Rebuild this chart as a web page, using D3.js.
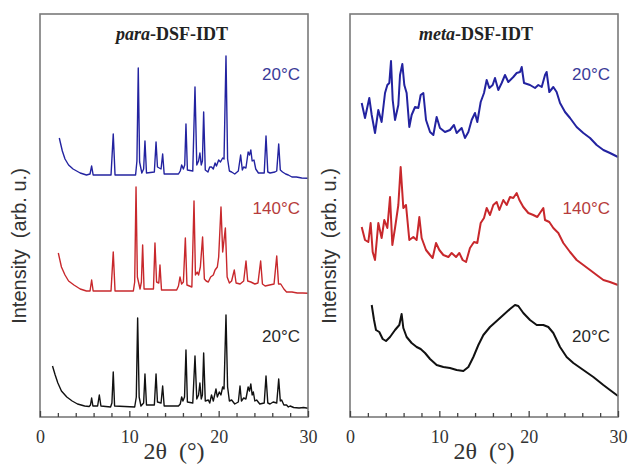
<!DOCTYPE html>
<html><head><meta charset="utf-8">
<script src="https://cdn.jsdelivr.net/npm/d3@7"></script>
<style>html,body{margin:0;padding:0;background:#fff;}svg{display:block;}</style>
</head><body>
<svg id="chart" width="628" height="464"></svg>
<script>
// ---- DATA (2θ in degrees, intensity in arbitrary offset units) ----
const panelTitles = [["para", "-DSF-IDT"], ["meta", "-DSF-IDT"]];
const traceLabels = ["20°C", "140°C", "20°C"];
const xTicksMajor = [0, 10, 20, 30];
const xTicksMinor = [2, 4, 6, 8, 12, 14, 16, 18, 22, 24, 26, 28];

const paraBlue20 = [[2.16,279],[2.5,266],[2.8,258],[3.2,252],[3.7,248],[4.5,244],[5.2,242],[5.6,243],[5.78,251],[5.95,242],[7.95,242],[8.2,283],[8.4,242],[10.7,242],[10.85,256],[11.0,349],[11.15,255],[11.4,244],[11.6,248],[11.75,276],[11.92,244],[12.8,245],[12.99,275],[13.15,250],[13.55,248],[13.73,263],[13.9,243],[15.5,243],[15.7,246],[15.86,252],[16.05,248],[16.2,252],[16.34,293],[16.5,247],[17.1,246],[17.35,330],[17.55,252],[17.75,256],[17.9,264],[18.05,252],[18.18,256],[18.32,305],[18.5,247],[18.8,245],[19.0,250],[19.2,250],[19.4,248],[19.6,254],[19.75,251],[20.0,257],[20.2,255],[20.45,259],[20.6,258],[20.82,361],[21.0,258],[21.2,246],[21.45,245],[21.8,243],[22.2,246],[22.46,262],[22.65,247],[22.8,250],[23.05,249],[23.3,265],[23.45,262],[23.6,267],[23.75,256],[23.95,257],[24.15,248],[24.45,244],[25.1,244],[25.3,281],[25.5,245],[25.75,244],[26.3,245],[26.5,246],[26.72,273],[26.9,247],[27.15,245],[27.5,243],[27.8,242],[28.2,240],[28.7,240],[29.3,239],[30,238.7]];
const paraRed140 = [[2.05,164],[2.4,150],[2.8,142],[3.2,136],[3.8,132],[4.5,128],[5.2,126],[5.6,126],[5.78,137],[5.95,126],[7.95,126],[8.2,165],[8.4,126],[10.45,126],[10.6,135],[10.75,230],[10.9,140],[11.2,128],[11.35,135],[11.49,172],[11.65,128],[12.7,128],[12.87,174],[13.05,135],[13.3,134],[13.43,152],[13.6,127],[15.3,127],[15.5,131],[15.67,140],[15.85,133],[16.05,135],[16.27,179],[16.45,132],[17.0,130],[17.24,216],[17.4,142],[17.6,145],[17.75,142],[17.95,150],[18.2,180],[18.4,138],[18.6,136],[18.84,135],[19.1,140],[19.4,142],[19.6,147],[19.85,150],[20.0,160],[20.26,210],[20.45,165],[20.75,189],[20.95,140],[21.2,134],[21.45,136],[21.75,147],[21.95,134],[22.4,133],[22.8,136],[23.06,156],[23.25,136],[23.6,135],[24.05,133],[24.4,134],[24.7,156],[24.9,133],[25.2,131],[25.7,132],[26.2,133],[26.5,161],[26.7,133],[26.95,133],[27.3,128],[27.6,125],[28.2,125],[28.8,124],[29.4,124],[30,123.7]];
const paraBlack20 = [[1.4,51],[1.7,42],[2.0,34],[2.4,26],[3.0,20],[3.6,16],[4.2,13],[5.0,11],[5.5,10.5],[5.65,12],[5.78,19],[5.92,11],[6.45,11],[6.64,22],[6.82,11],[7.9,10],[8.05,14],[8.2,45],[8.35,11],[10.6,10],[10.78,20],[10.93,99],[11.1,20],[11.3,11],[11.6,14],[11.75,43],[11.92,12],[12.8,12],[12.99,43],[13.15,15],[13.55,14],[13.73,31],[13.9,11],[15.5,11],[15.7,13],[15.86,20],[16.0,16],[16.18,20],[16.34,67],[16.5,15],[17.1,14],[17.35,61],[17.55,18],[17.75,22],[17.9,34],[18.05,18],[18.18,22],[18.32,64],[18.5,16],[18.84,17],[19.0,14],[19.2,22],[19.4,16],[19.7,28],[19.85,20],[20.07,25],[20.25,22],[20.45,30],[20.6,28],[20.82,102],[21.0,30],[21.2,16],[21.45,17],[21.8,13],[22.2,15],[22.39,31],[22.55,16],[22.8,19],[23.05,18],[23.3,30],[23.45,26],[23.6,33],[23.75,22],[23.88,25],[24.05,16],[24.25,17],[24.6,13],[25.1,14],[25.3,41],[25.5,14],[25.75,13],[26.1,15],[26.5,14],[26.72,38],[26.9,16],[27.05,17],[27.3,12],[27.6,12],[27.8,10],[28.0,11],[28.4,9.5],[29.0,9],[29.5,9.5],[30,8.7]];

const metaBlue20 = [[1.31,314],[1.68,299],[2.16,319],[2.43,302],[2.80,284],[3.17,307],[3.54,295],[3.92,324],[4.18,332],[4.40,334],[4.59,356],[4.78,317],[5.04,297],[5.41,312],[5.60,342],[5.86,353],[6.08,332],[6.34,324],[6.64,290],[6.90,302],[7.28,310],[7.65,309],[7.91,322],[8.21,324],[8.51,297],[8.96,285],[9.33,282],[9.70,300],[10.07,289],[10.63,285],[11.19,287],[11.64,292],[11.94,284],[12.50,289],[12.87,279],[13.25,285],[13.62,297],[13.99,304],[14.25,295],[14.63,315],[15.0,324],[15.30,337],[15.60,329],[15.97,332],[16.23,339],[16.60,327],[16.98,334],[17.35,342],[17.72,335],[18.28,340],[18.66,344],[19.03,345],[19.22,350],[19.48,334],[20.15,332],[20.71,329],[21.08,332],[21.46,330],[21.83,342],[22.01,345],[22.31,325],[22.76,330],[23.13,325],[23.51,314],[24.07,305],[24.63,299],[25.37,290],[26.12,284],[26.87,279],[27.61,272],[28.36,267],[29.10,264],[30.0,260]];
const metaRed140 = [[1.31,190],[1.68,177],[2.05,175],[2.31,194],[2.54,165],[2.80,157],[3.17,194],[3.54,179],[3.84,197],[4.18,189],[4.48,220],[4.74,172],[5.04,189],[5.41,212],[5.67,250],[5.97,209],[6.27,212],[6.64,177],[7.09,180],[7.46,177],[7.76,200],[8.02,179],[8.51,167],[8.96,162],[9.25,159],[9.63,174],[10.0,167],[10.45,162],[11.01,160],[11.38,164],[11.87,160],[12.24,164],[12.61,157],[12.99,155],[13.43,169],[13.88,175],[14.25,174],[14.63,194],[15.0,199],[15.30,209],[15.67,202],[16.04,212],[16.42,215],[16.72,207],[17.16,217],[17.54,212],[17.91,220],[18.28,219],[18.66,224],[18.96,217],[19.40,210],[19.96,204],[20.52,202],[20.97,200],[21.34,205],[21.64,209],[21.83,197],[22.31,195],[22.76,189],[23.32,184],[23.88,174],[24.63,165],[25.37,157],[26.12,152],[26.87,147],[27.61,142],[28.36,137],[29.10,135],[30.0,132]];
const metaBlack20 = [[2.43,112],[2.69,97],[2.91,87],[3.28,85],[3.66,78],[4.03,76],[4.48,80],[5.04,87],[5.52,92],[5.78,103],[5.97,89],[6.34,80],[6.90,74],[7.46,70],[7.91,68],[8.40,64],[8.96,58],[9.70,52],[10.45,50],[11.19,49],[11.94,47],[12.69,46],[13.25,50],[13.81,60],[14.37,72],[14.93,82],[15.67,90],[16.42,96],[17.16,102],[17.91,108],[18.47,112],[18.84,111],[19.40,104],[20.15,97],[20.90,92],[21.64,92],[22.20,90],[22.76,84],[23.51,70],[24.25,60],[25.0,54],[26.12,47],[27.24,40],[28.36,32],[29.10,27],[30.0,21]];

// ---- LAYOUT ----
(function () {
const panels = [
  {x0: 40, x1: 308, series: [paraBlue20, paraRed140, paraBlack20], lw: 1.4, titleX: 172, ytX: 26},
  {x0: 350, x1: 618, series: [metaBlue20, metaRed140, metaBlack20], lw: 2.0, titleX: 476, ytX: 336}
];
const plotTop = 14, plotBottom = 417;
const colors = ["#2323a0", "#c8282c", "#111111"];
const labelColors = ["#3a3a98", "#b63c3c", "#2a2a2a"];
const labelY = [80, 214, 342];

const svg = d3.select("#chart");

panels.forEach((p, pi) => {
  const x = d3.scaleLinear().domain([0, 30]).range([p.x0, p.x1]);
  const y = d3.scaleLinear().domain([0, 403]).range([plotBottom, plotTop]);
  const g = svg.append("g");

  const line = d3.line().x(d => x(d[0])).y(d => y(d[1]));
  p.series.forEach((s, si) => {
    g.append("path").datum(s).attr("d", line)
      .attr("fill", "none").attr("stroke", colors[si])
      .attr("stroke-width", p.lw).attr("stroke-linejoin", "round");
  });

  g.append("rect").attr("x", p.x0).attr("y", plotTop)
    .attr("width", p.x1 - p.x0).attr("height", plotBottom - plotTop)
    .attr("fill", "none").attr("stroke", "#7a7a7a").attr("stroke-width", 1.6);

  const axis = d3.axisBottom(x).tickValues(xTicksMajor).tickSizeInner(-6).tickSizeOuter(0).tickPadding(13)
    .tickFormat(d3.format("d"));
  const ax = g.append("g").attr("transform", `translate(0,${plotBottom})`).call(axis);
  ax.select(".domain").remove();
  ax.selectAll(".tick line").attr("stroke", "#444").attr("stroke-width", 1.3);
  ax.selectAll(".tick text").attr("font-family", "'Liberation Serif','Times New Roman',serif")
    .attr("font-size", 18).attr("fill", "#333");
  const minor = d3.axisBottom(x).tickValues(xTicksMinor).tickSize(-4).tickFormat("");
  const mx = g.append("g").attr("transform", `translate(0,${plotBottom})`).call(minor);
  mx.select(".domain").remove();
  mx.selectAll(".tick line").attr("stroke", "#444").attr("stroke-width", 1.3);

  g.append("text").attr("x", (p.x0 + p.x1) / 2).attr("y", 459)
    .attr("text-anchor", "middle").attr("font-family", "'Liberation Serif','Times New Roman',serif")
    .attr("font-size", 24).attr("fill", "#333").attr("xml:space", "preserve").text("2θ  (°)");

  g.append("text").attr("transform", `translate(${p.ytX},246) rotate(-90)`)
    .attr("text-anchor", "middle").attr("font-family", "'Liberation Sans',Arial,sans-serif")
    .attr("font-size", 20).attr("fill", "#333").attr("xml:space", "preserve")
    .text("Intensity  (arb. u.)");

  const t = g.append("text").attr("x", p.titleX).attr("y", 40).attr("text-anchor", "middle")
    .attr("font-family", "'Liberation Serif','Times New Roman',serif").attr("font-size", 18)
    .attr("font-weight", "bold").attr("fill", "#222");
  t.append("tspan").attr("font-style", "italic").text(panelTitles[pi][0]);
  t.append("tspan").text(panelTitles[pi][1]);

  traceLabels.forEach((lab, li) => {
    g.append("text").attr("x", p.x1 - 8).attr("y", labelY[li]).attr("text-anchor", "end")
      .attr("font-family", "'Liberation Sans',Arial,sans-serif").attr("font-size", 17)
      .attr("fill", labelColors[li]).text(lab);
  });
});
})();
</script>
</body></html>
